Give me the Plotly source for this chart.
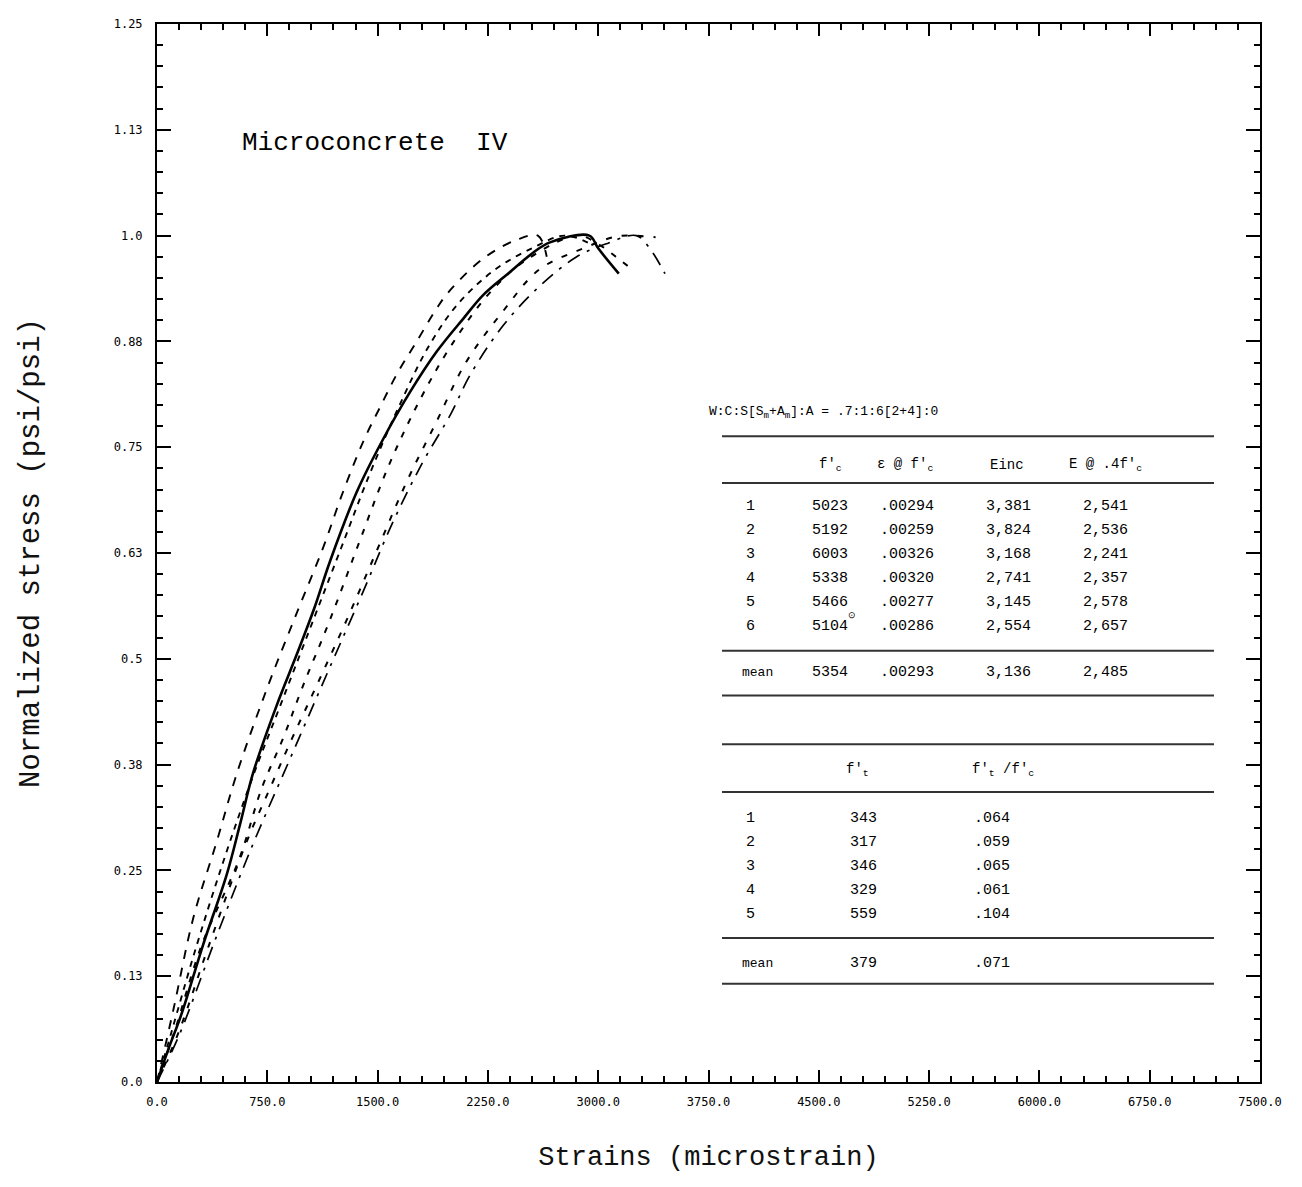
import plotly.graph_objects as go

# ---------------- data ----------------
x_ticks = [0, 750, 1500, 2250, 3000, 3750, 4500, 5250, 6000, 6750, 7500]
x_ticktext = ["0.0", "750.0", "1500.0", "2250.0", "3000.0", "3750.0", "4500.0",
              "5250.0", "6000.0", "6750.0", "7500.0"]
y_ticks = [0, 0.125, 0.25, 0.375, 0.5, 0.625, 0.75, 0.875, 1.0, 1.125, 1.25]
y_ticktext = ["0.0", "0.13", "0.25", "0.38", "0.5", "0.63", "0.75", "0.88", "1.0", "1.13", "1.25"]

# specimen 2 (leftmost)
strain_2 = [0, 111, 247, 406, 542, 746, 950, 1131, 1256, 1403, 1516, 1630, 1766, 1902, 1981, 2219, 2446, 2590, 2650]
stress_2 = [0, 0.085, 0.194, 0.284, 0.364, 0.464, 0.554, 0.632, 0.693, 0.757, 0.797, 0.836, 0.875, 0.914, 0.933, 0.973, 0.995, 1.0, 0.975]
# specimen 1 (solid)
strain_1 = [0, 80, 168, 315, 474, 564, 655, 814, 950, 1070, 1176, 1358, 1539, 1720, 1902, 2083, 2219, 2400, 2559, 2672, 2940, 3000, 3140]
stress_1 = [0, 0.04, 0.081, 0.163, 0.245, 0.304, 0.366, 0.445, 0.505, 0.56, 0.615, 0.697, 0.760, 0.815, 0.863, 0.902, 0.930, 0.957, 0.980, 0.992, 1.0, 0.985, 0.955]
# specimen 5
strain_5 = [0, 100, 250, 450, 650, 850, 1050, 1250, 1450, 1650, 1850, 2050, 2300, 2550, 2770, 2950]
stress_5 = [0, 0.06, 0.15, 0.26, 0.36, 0.45, 0.54, 0.63, 0.72, 0.80, 0.87, 0.92, 0.96, 0.985, 1.0, 0.99]
# specimen 6
strain_6 = [0, 120, 300, 560, 712, 855, 988, 1176, 1380, 1580, 1800, 2000, 2250, 2500, 2860, 3000, 3120, 3216]
stress_6 = [0, 0.06, 0.16, 0.264, 0.347, 0.405, 0.466, 0.546, 0.64, 0.73, 0.81, 0.87, 0.93, 0.97, 1.0, 0.99, 0.975, 0.962]
# specimen 4
strain_4 = [0, 150, 350, 610, 768, 916, 1079, 1290, 1500, 1700, 1900, 2100, 2350, 2600, 2900, 3100, 3200, 3390]
stress_4 = [0, 0.06, 0.16, 0.284, 0.347, 0.405, 0.466, 0.546, 0.63, 0.71, 0.78, 0.85, 0.91, 0.96, 0.985, 0.998, 1.0, 0.998]
# specimen 3 (rightmost, dash-dot)
strain_3 = [0, 150, 400, 650, 900, 1150, 1403, 1600, 1800, 2000, 2128, 2355, 2600, 2854, 3050, 3260, 3350, 3454]
stress_3 = [0, 0.055, 0.17, 0.28, 0.38, 0.48, 0.58, 0.66, 0.73, 0.79, 0.835, 0.894, 0.94, 0.975, 0.99, 1.0, 0.985, 0.955]

# table data
mix_label = "W:C:S[S<sub>m</sub>+A<sub>m</sub>]:A = .7:1:6[2+4]:0"
comp_head = ["f′<sub>c</sub>", "ε @ f′<sub>c</sub>", "Einc", "E @ .4f′<sub>c</sub>"]
comp_ids = ["1", "2", "3", "4", "5", "6"]
comp_fc = ["5023", "5192", "6003", "5338", "5466", "5104"]
comp_eps = [".00294", ".00259", ".00326", ".00320", ".00277", ".00286"]
comp_einc = ["3,381", "3,824", "3,168", "2,741", "3,145", "2,554"]
comp_e04 = ["2,541", "2,536", "2,241", "2,357", "2,578", "2,657"]
comp_mean = ["mean", "5354", ".00293", "3,136", "2,485"]
tens_head = ["f′<sub>t</sub>", "f′<sub>t</sub> /f′<sub>c</sub>"]
tens_ids = ["1", "2", "3", "4", "5"]
tens_ft = ["343", "317", "346", "329", "559"]
tens_ratio = [".064", ".059", ".065", ".061", ".104"]
tens_mean = ["mean", "379", ".071"]

# ---------------- figure ----------------
OFF = 8                      # default page margin of the html body
W, H = 1302 - OFF, 1187 - OFF
L, R, T, B = 157, 1260, 17, 1082   # plot area in page pixels


def xp(px):
    return (px - L) / (R - L)


def yp(py):
    return (B - py) / (B - T)


fig = go.Figure()
series = [
    (strain_2, stress_2, "dash", 1.9),
    (strain_1, stress_1, "solid", 2.6),
    (strain_5, stress_5, "6px,6px", 1.9),
    (strain_6, stress_6, "6px,9px", 2.0),
    (strain_4, stress_4, "6px,10px", 2.0),
    (strain_3, stress_3, "14px,8px,3px,8px", 1.7),
]
for sx, sy, dash, w in series:
    fig.add_trace(go.Scatter(x=sx, y=sy, mode="lines", line=dict(color="black", width=w, dash=dash),
                             showlegend=False, line_shape="spline"))

mono = "Liberation Mono"
tickfont = dict(family="DejaVu Sans Mono", size=12, color="black")

fig.update_layout(
    width=W, height=H,
    margin=dict(l=L - OFF, r=W - (R - OFF), t=T - OFF, b=H - (B - OFF)),
    paper_bgcolor="white", plot_bgcolor="white",
    showlegend=False,
    xaxis=dict(range=[0, 7500], tickvals=x_ticks, ticktext=x_ticktext, tickfont=tickfont,
               showgrid=False, zeroline=False, showline=True, linecolor="black", linewidth=2,
               mirror="ticks", ticks="inside", ticklen=12, tickwidth=1.5, tickcolor="black",
               ticklabelstandoff=8,
               minor=dict(dtick=150, ticks="inside", ticklen=6, tickwidth=1.5, tickcolor="black", showgrid=False),
               title=dict(text="Strains (microstrain)", font=dict(family=mono, size=27, color="#111111"), standoff=38)),
    yaxis=dict(range=[0, 1.25], tickvals=y_ticks, ticktext=y_ticktext, tickfont=tickfont,
               showgrid=False, zeroline=False, showline=True, linecolor="black", linewidth=2,
               mirror="ticks", ticks="inside", ticklen=14, tickwidth=1.5, tickcolor="black",
               ticklabelstandoff=10,
               minor=dict(dtick=0.025, ticks="inside", ticklen=6, tickwidth=1.5, tickcolor="black", showgrid=False),
               title=dict(text="Normalized stress (psi/psi)", font=dict(family=mono, size=29, color="#111111"), standoff=66)),
)

ann = []


def txt(px, py, s, size=13, anchor="center", family=mono):
    ann.append(dict(x=xp(px), y=yp(py), xref="paper", yref="paper", text=s, showarrow=False,
                    xanchor=anchor, yanchor="middle", font=dict(family=family, size=size, color="black")))


txt(240, 137, "Microconcrete  IV", size=26, anchor="left")

# compression table
txt(707, 408, mix_label, size=13, anchor="left")
head_x = [830, 905, 1007, 1105]
for hx, h in zip(head_x, comp_head):
    txt(hx, 461, h, size=14)
row_y = [503, 527, 551, 575, 599, 623]
col_x = [750, 830, 907, 1008, 1105]
for i, ry in enumerate(row_y):
    vals = [comp_ids[i], comp_fc[i], comp_eps[i], comp_einc[i], comp_e04[i]]
    for cx, v in zip(col_x, vals):
        txt(cx, ry, v, size=15)
txt(852, 613, "⊙", size=9)
for cx, v in zip([757] + col_x[1:], comp_mean):
    txt(cx, 670, v, size=15 if v != "mean" else 13)

# tension table
txt(857, 768, tens_head[0], size=14)
txt(1003, 768, tens_head[1], size=14)
t_row_y = [817, 841, 865, 889, 913]
for i, ry in enumerate(t_row_y):
    for cx, v in zip([750, 863, 992], [tens_ids[i], tens_ft[i], tens_ratio[i]]):
        txt(cx, ry, v, size=15)
for cx, v in zip([757, 863, 992], tens_mean):
    txt(cx, 963, v, size=15 if v != "mean" else 13)

fig.update_layout(annotations=ann)

shapes = []
for ry in [432, 479, 648, 693, 742, 790, 937, 983]:
    shapes.append(dict(type="line", xref="paper", yref="paper", x0=xp(722), x1=xp(1214),
                       y0=yp(ry), y1=yp(ry), line=dict(color="#333333", width=2)))
fig.update_layout(shapes=shapes)

fig.write_html("out.html")
